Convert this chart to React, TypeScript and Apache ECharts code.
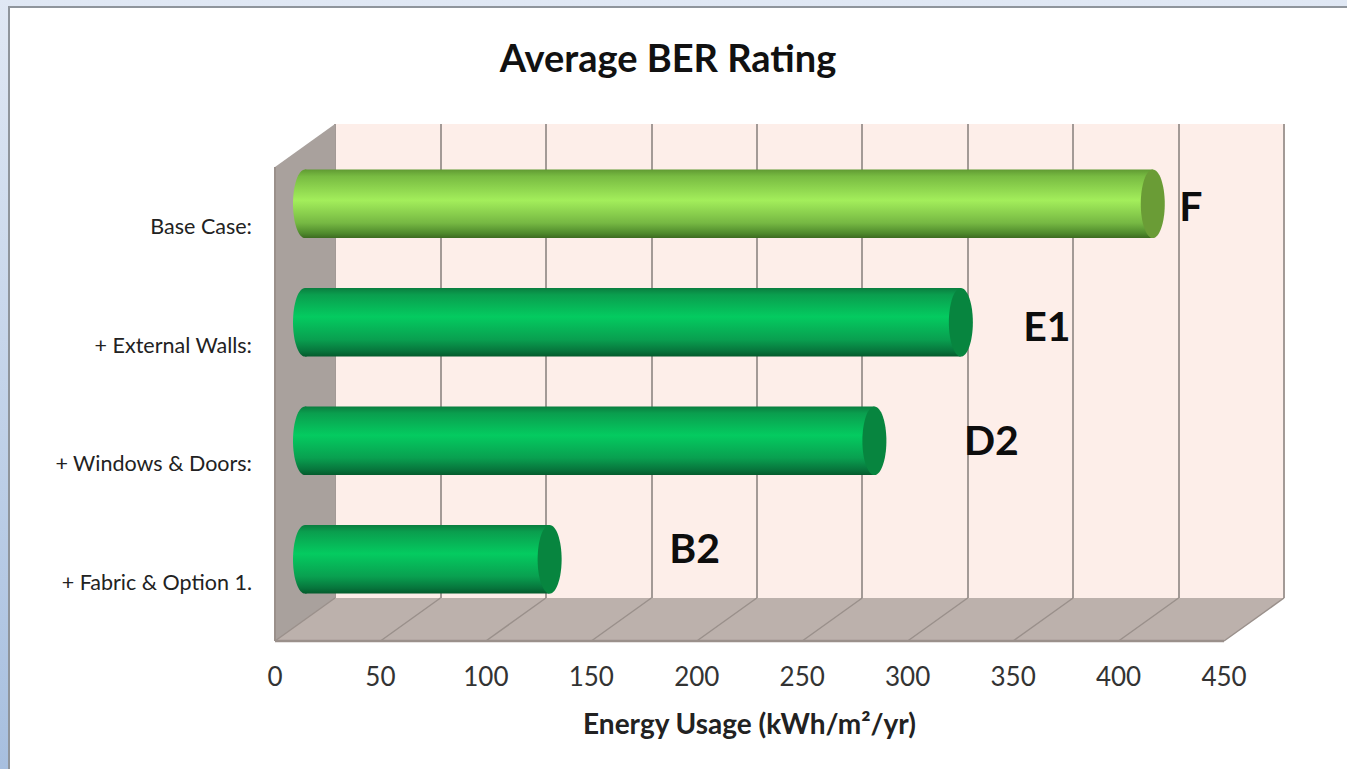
import React, { useEffect, useRef } from "react";
import * as echarts from "echarts";

const categories = ["Base Case:", "+ External Walls:", "+ Windows & Doors:", "+ Fabric & Option 1."];
const energyUsage = [402, 311, 270, 116];
const ratings = ["F", "E1", "D2", "B2"];
const xTicks = [0, 50, 100, 150, 200, 250, 300, 350, 400, 450];
const ratingShiftX = [38, 86, 117, 145];
const ratingShiftY = [1, 2, -2, -13];

const FONT = "Lato, 'Open Sans', sans-serif";
const DEPTH_X = 60;
const DEPTH_Y = 43;
const GRID_W = 949;
const GRID_H = 474;

const vGrad = (stops: [number, string][]) =>
  new echarts.graphic.LinearGradient(0, 0, 0, 1, stops.map(([offset, color]) => ({ offset, color })));

const lightStops = (): [number, string][] => [
  [0, "#5f9a32"], [0.1, "#78bb42"], [0.45, "#a3ee5b"], [0.78, "#76b843"], [0.93, "#4f8a2c"], [1, "#3c6a20"],
];
const greenStops = (): [number, string][] => [
  [0, "#0a7d3f"], [0.1, "#0a9e4e"], [0.42, "#04cb60"], [0.75, "#09a050"], [0.92, "#07753c"], [1, "#045a2c"],
];

export default function App() {
  const ref = useRef<HTMLDivElement>(null);
  useEffect(() => {
    document.body.style.margin = "0";
    const chart = echarts.init(ref.current!, undefined, { renderer: "svg" });
    const valueAxisBase = { type: "value", min: 0, max: 450, interval: 50 };
    const option: any = {
      animation: false,
      backgroundColor: "#ffffff",
      title: {
        text: "Average BER Rating",
        left: 663,
        top: 33,
        textAlign: "center",
        textStyle: { fontFamily: FONT, fontSize: 38, fontWeight: "bold", color: "#111" },
      },
      graphic: [
        {
          type: "rect", z: -10, silent: true,
          shape: { x: 0, y: 0, width: 1347, height: 769 },
          style: { fill: new echarts.graphic.LinearGradient(0, 0, 0, 1, [
            { offset: 0, color: "#e0e8f4" }, { offset: 1, color: "#a7bfdf" },
          ]) },
        },
        {
          type: "rect", z: -9, silent: true,
          shape: { x: 9, y: 7, width: 1350, height: 775 },
          style: { fill: "#ffffff", stroke: "#8f959c", lineWidth: 2 },
        },
      ],
      grid: [
        { left: 275, top: 167, width: GRID_W, height: GRID_H, containLabel: false },
        { left: 275 + DEPTH_X, top: 167 - DEPTH_Y, width: GRID_W, height: GRID_H, show: true, backgroundColor: "#fdeee9", borderWidth: 0 },
        { left: 275 + DEPTH_X / 2, top: 167 - DEPTH_Y / 2, width: GRID_W, height: GRID_H },
      ],
      xAxis: [
        {
          ...valueAxisBase,
          gridIndex: 0,
          name: "Energy Usage (kWh/m²/yr)",
          nameLocation: "middle",
          nameGap: 68,
          nameTextStyle: { fontFamily: FONT, fontSize: 28, fontWeight: "bold", color: "#222" },
          axisLine: { show: false },
          axisTick: { show: false },
          splitLine: { show: false },
          axisLabel: {
            margin: 22, fontFamily: FONT, fontSize: 26, color: "#333",
            formatter: (v: number) => String(xTicks[xTicks.indexOf(v)]),
          },
        },
        {
          ...valueAxisBase,
          gridIndex: 1,
          axisLine: { show: false },
          axisTick: { show: false },
          axisLabel: { show: false },
          splitLine: { show: true, lineStyle: { color: "#a39a96", width: 2 } },
        },
        { ...valueAxisBase, gridIndex: 2, show: false },
      ],
      yAxis: [
        {
          type: "category", gridIndex: 0, data: categories, inverse: true,
          axisLine: { show: false }, axisTick: { show: false },
          axisLabel: { margin: 23, fontFamily: FONT, fontSize: 21.5, color: "#222", padding: [0, 0, 3, 0] },
        },
        { type: "category", gridIndex: 1, data: categories, inverse: true, show: false },
        { type: "category", gridIndex: 2, data: categories, inverse: true, show: false },
      ],
      series: [
        {
          type: "custom",
          xAxisIndex: 0,
          yAxisIndex: 0,
          z: 1,
          silent: true,
          data: [[0, 0]],
          renderItem: (params: any, api: any) => {
            const c = params.coordSys;
            const x0 = c.x, y0 = c.y, x1 = c.x + c.width, y1 = c.y + c.height;
            const dx = DEPTH_X, dy = DEPTH_Y;
            const lineColor = "#9a908b";
            const children: any[] = [
              {
                type: "polygon",
                shape: { points: [[x0, y0], [x0 + dx, y0 - dy], [x0 + dx, y1 - dy], [x0, y1]] },
                style: { fill: "#a9a19d" },
              },
              {
                type: "polygon",
                shape: { points: [[x0, y1], [x0 + dx, y1 - dy], [x1 + dx, y1 - dy], [x1, y1]] },
                style: { fill: "#bcb1ac" },
              },
            ];
            xTicks.forEach((t) => {
              const fx = api.coord([t, 0])[0];
              children.push({
                type: "line",
                shape: { x1: fx, y1: y1, x2: fx + dx, y2: y1 - dy },
                style: { stroke: lineColor, lineWidth: 1.5 },
              });
            });
            children.push({
              type: "line",
              shape: { x1: x0, y1: y1, x2: x1, y2: y1 },
              style: { stroke: lineColor, lineWidth: 2.5 },
            });
            children.push({
              type: "line",
              shape: { x1: x0, y1: y0, x2: x0, y2: y1 },
              style: { stroke: lineColor, lineWidth: 2 },
            });
            return { type: "group", children };
          },
        },
        {
          type: "custom",
          xAxisIndex: 2,
          yAxisIndex: 2,
          z: 5,
          data: energyUsage.map((v, i) => [v, i]),
          renderItem: (_params: any, api: any) => {
            const i = api.value(1);
            const end = api.coord([api.value(0), i]);
            const start = api.coord([0, i]);
            const h = api.size([0, 1])[1] * 0.58;
            const rx = 12;
            const body = vGrad(i === 0 ? lightStops() : greenStops());
            const cap = i === 0 ? "#6a9c36" : "#07853f";
            return {
              type: "group",
              children: [
                {
                  type: "ellipse",
                  shape: { cx: start[0], cy: start[1] - 1, rx, ry: h / 2 },
                  style: { fill: body },
                },
                {
                  type: "rect",
                  shape: { x: start[0], y: start[1] - 1 - h / 2, width: end[0] - start[0], height: h },
                  style: { fill: body },
                },
                {
                  type: "ellipse",
                  shape: { cx: end[0], cy: end[1] - 1, rx, ry: h / 2 },
                  style: { fill: cap },
                },
                {
                  type: "text",
                  style: {
                    x: end[0] + ratingShiftX[i],
                    y: end[1] + ratingShiftY[i],
                    text: ratings[i],
                    fill: "#0d0d0d",
                    font: `bold 41px ${FONT}`,
                    align: "center",
                    verticalAlign: "middle",
                  },
                },
              ],
            };
          },
        },
      ],
    };
    chart.setOption(option);
    return () => chart.dispose();
  }, []);
  return <div ref={ref} style={{ width: 1347, height: 769 }} />;
}
